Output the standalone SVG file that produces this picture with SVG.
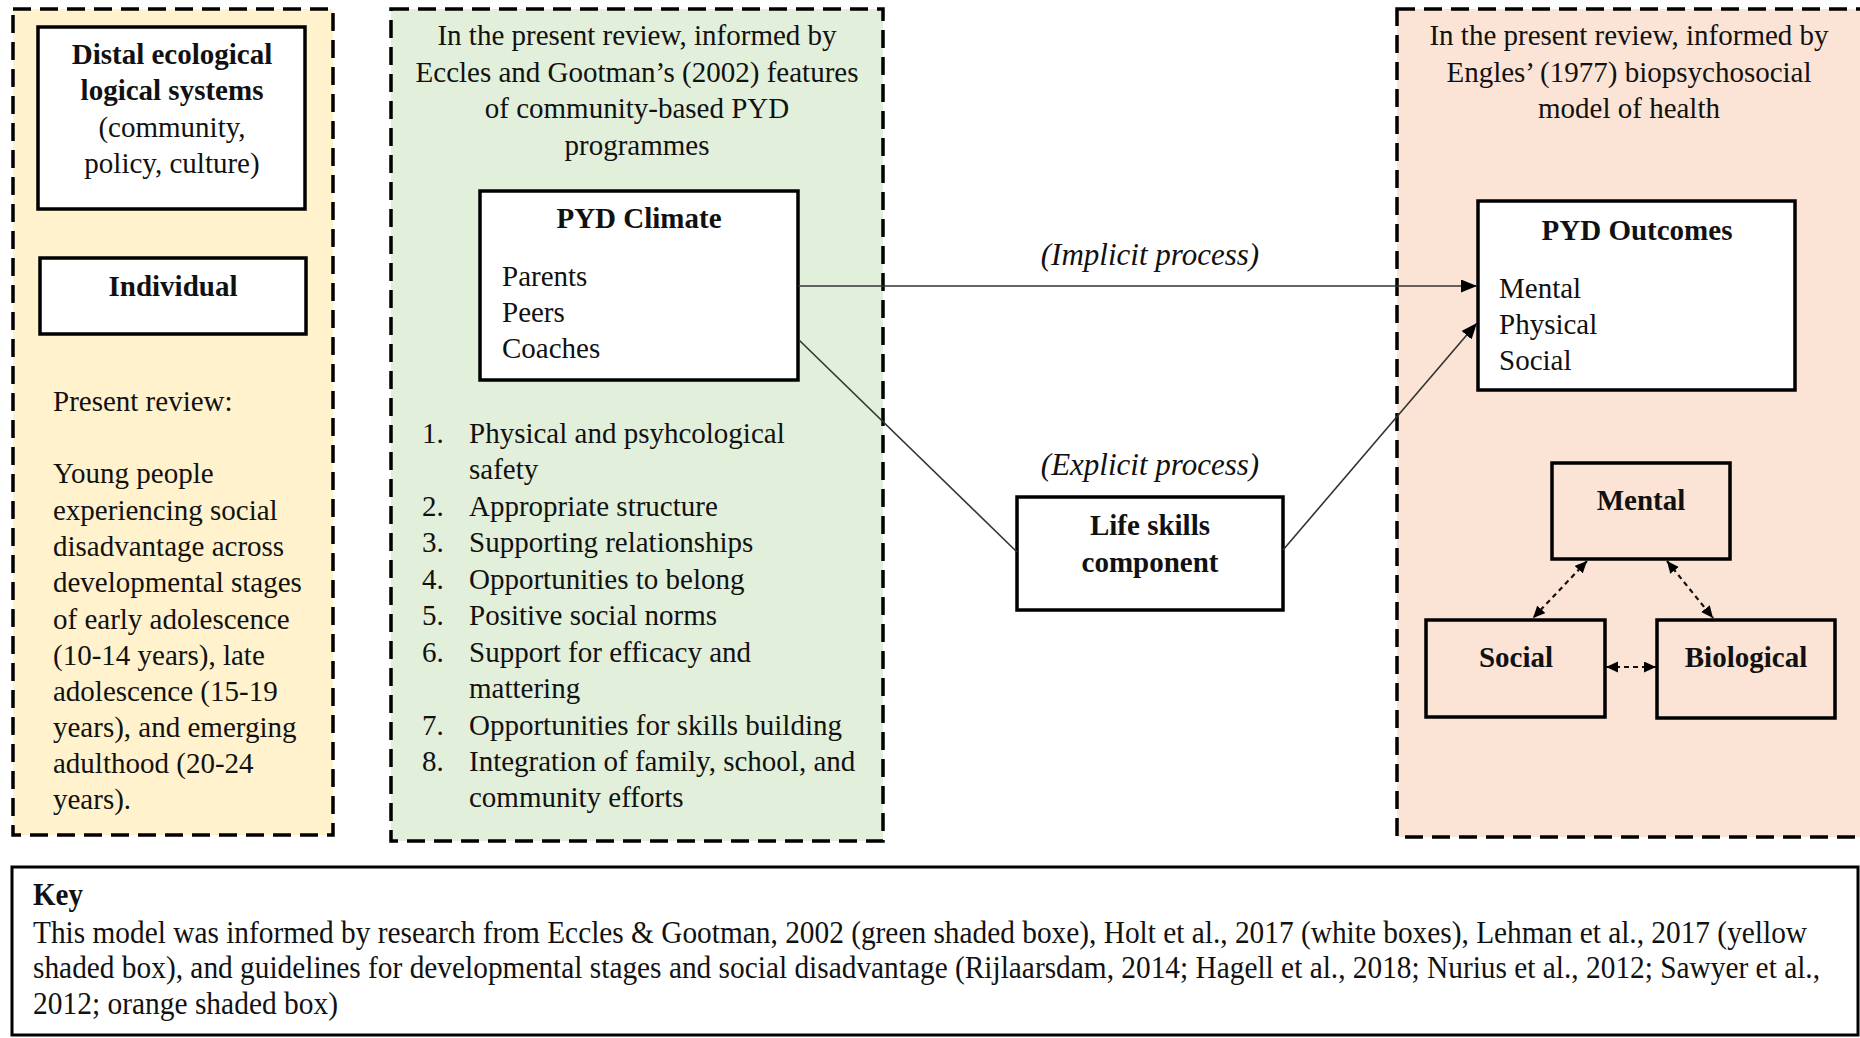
<svg xmlns="http://www.w3.org/2000/svg" width="1860" height="1038" viewBox="0 0 1860 1038">
  <style>
    text { font-family: "Liberation Serif", "Times New Roman", serif; fill: #111; }
    .t { font-size: 29px; }
    .b { font-size: 29px; font-weight: bold; }
    .i { font-size: 31px; font-style: italic; }
    .c { text-anchor: middle; }
    .k { font-size: 32px; }
    .panel { stroke: #000; stroke-width: 3.5; stroke-dasharray: 18 9; }
    .box { fill: #fff; stroke: #000; stroke-width: 3.5; }
    .tbox { fill: none; stroke: #000; stroke-width: 3.5; }
    .link { fill: none; stroke: #333; stroke-width: 1.6; }
    .dlink { fill: none; stroke: #111; stroke-width: 2.2; stroke-dasharray: 5 4; }
  </style>
  <defs>
    <marker id="arrow" markerUnits="userSpaceOnUse" markerWidth="17" markerHeight="14" refX="16" refY="6.5" orient="auto">
      <path d="M0,0 L16,6.5 L0,13 z" fill="#000"/>
    </marker>
    <marker id="tip" markerUnits="userSpaceOnUse" markerWidth="13" markerHeight="12" refX="12" refY="5.5" orient="auto-start-reverse">
      <path d="M0,0 L12,5.5 L0,11 z" fill="#000"/>
    </marker>
  </defs>

  <rect width="1860" height="1038" fill="#fff"/>

  <!-- Context panels -->
  <g id="panel-ecological">
    <rect class="panel" x="13" y="9" width="320" height="826" fill="#FFF2CC"/>
  </g>
  <g id="panel-eccles">
    <rect class="panel" x="391" y="9" width="492" height="832" fill="#E2EFDA"/>
    <text class="t c" x="637" y="45">In the present review, informed by</text>
    <text class="t c" x="637" y="82">Eccles and Gootman’s (2002) features</text>
    <text class="t c" x="637" y="118">of community-based PYD</text>
    <text class="t c" x="637" y="155">programmes</text>
  </g>
  <g id="panel-engles">
    <rect class="panel" x="1397" y="9" width="490" height="828" fill="#FBE4D5"/>
    <text class="t c" x="1629" y="45">In the present review, informed by</text>
    <text class="t c" x="1629" y="82">Engles’ (1977) biopsychosocial</text>
    <text class="t c" x="1629" y="118">model of health</text>
  </g>

  <!-- Left column -->
  <g id="node-distal">
    <rect class="box" x="38" y="27" width="267" height="182"/>
    <text class="b c" x="172" y="64">Distal ecological</text>
    <text class="b c" x="172" y="100">logical systems</text>
    <text class="t c" x="172" y="137">(community,</text>
    <text class="t c" x="172" y="173">policy, culture)</text>
  </g>
  <g id="node-individual">
    <rect class="box" x="40" y="258" width="266" height="76"/>
    <text class="b c" x="173" y="296">Individual</text>
  </g>
  <g id="note-present-review">
    <text class="t" x="53" y="411">Present review:</text>
    <text class="t" x="53" y="483">Young people</text>
    <text class="t" x="53" y="520">experiencing social</text>
    <text class="t" x="53" y="556">disadvantage across</text>
    <text class="t" x="53" y="592">developmental stages</text>
    <text class="t" x="53" y="629">of early adolescence</text>
    <text class="t" x="53" y="665">(10-14 years), late</text>
    <text class="t" x="53" y="701">adolescence (15-19</text>
    <text class="t" x="53" y="737">years), and emerging</text>
    <text class="t" x="53" y="773">adulthood (20-24</text>
    <text class="t" x="53" y="809">years).</text>
  </g>

  <!-- PYD climate and programme features -->
  <g id="node-pyd-climate">
    <rect class="box" x="480" y="191" width="318" height="189"/>
    <text class="b c" x="639" y="228">PYD Climate</text>
    <text class="t" x="502" y="286">Parents</text>
    <text class="t" x="502" y="322">Peers</text>
    <text class="t" x="502" y="358">Coaches</text>
  </g>
  <g id="list-features">
    <text class="t" x="422" y="443">1.</text><text class="t" x="469" y="443">Physical and psyhcological</text>
    <text class="t" x="469" y="479">safety</text>
    <text class="t" x="422" y="516">2.</text><text class="t" x="469" y="516">Appropriate structure</text>
    <text class="t" x="422" y="552">3.</text><text class="t" x="469" y="552">Supporting relationships</text>
    <text class="t" x="422" y="589">4.</text><text class="t" x="469" y="589">Opportunities to belong</text>
    <text class="t" x="422" y="625">5.</text><text class="t" x="469" y="625">Positive social norms</text>
    <text class="t" x="422" y="662">6.</text><text class="t" x="469" y="662">Support for efficacy and</text>
    <text class="t" x="469" y="698">mattering</text>
    <text class="t" x="422" y="735">7.</text><text class="t" x="469" y="735">Opportunities for skills building</text>
    <text class="t" x="422" y="771">8.</text><text class="t" x="469" y="771">Integration of family, school, and</text>
    <text class="t" x="469" y="807">community efforts</text>
  </g>

  <!-- Life skills -->
  <g id="node-life-skills">
    <rect class="box" x="1017" y="497" width="266" height="113"/>
    <text class="b c" x="1150" y="535">Life skills</text>
    <text class="b c" x="1150" y="572">component</text>
  </g>

  <!-- Outcomes -->
  <g id="node-pyd-outcomes">
    <rect class="box" x="1478" y="201" width="317" height="189"/>
    <text class="b c" x="1637" y="240">PYD Outcomes</text>
    <text class="t" x="1499" y="298">Mental</text>
    <text class="t" x="1499" y="334">Physical</text>
    <text class="t" x="1499" y="370">Social</text>
  </g>
  <g id="node-mental">
    <rect class="tbox" x="1552" y="463" width="178" height="96"/>
    <text class="b c" x="1641" y="510">Mental</text>
  </g>
  <g id="node-social">
    <rect class="tbox" x="1426" y="620" width="179" height="97"/>
    <text class="b c" x="1516" y="667">Social</text>
  </g>
  <g id="node-biological">
    <rect class="tbox" x="1657" y="620" width="178" height="98"/>
    <text class="b c" x="1746" y="667">Biological</text>
  </g>

  <!-- Connectors -->
  <g id="connectors">
    <line class="link" x1="798" y1="286" x2="1477" y2="286" marker-end="url(#arrow)"/>
    <text class="i c" x="1150" y="265">(Implicit process)</text>
    <line class="link" x1="799" y1="340" x2="1017" y2="552"/>
    <line class="link" x1="1283" y1="550" x2="1477" y2="323" marker-end="url(#arrow)"/>
    <text class="i c" x="1150" y="475">(Explicit process)</text>
    <line class="dlink" x1="1587" y1="561" x2="1533" y2="618" marker-start="url(#tip)" marker-end="url(#tip)"/>
    <line class="dlink" x1="1667" y1="561" x2="1713" y2="618" marker-start="url(#tip)" marker-end="url(#tip)"/>
    <line class="dlink" x1="1606" y1="667" x2="1656" y2="667" marker-start="url(#tip)" marker-end="url(#tip)"/>
  </g>

  <!-- Key -->
  <g id="key">
    <rect x="12" y="867" width="1846" height="168" fill="#fff" stroke="#000" stroke-width="3"/>
    <text class="k" x="33" y="905" font-weight="bold" textLength="50" lengthAdjust="spacingAndGlyphs">Key</text>
    <text class="k" x="33" y="943" textLength="1774" lengthAdjust="spacingAndGlyphs">This model was informed by research from Eccles &amp; Gootman, 2002 (green shaded boxe), Holt et al., 2017 (white boxes), Lehman et al., 2017 (yellow</text>
    <text class="k" x="33" y="978" textLength="1787" lengthAdjust="spacingAndGlyphs">shaded box), and guidelines for developmental stages and social disadvantage (Rijlaarsdam, 2014; Hagell et al., 2018; Nurius et al., 2012; Sawyer et al.,</text>
    <text class="k" x="33" y="1014" textLength="305" lengthAdjust="spacingAndGlyphs">2012; orange shaded box)</text>
  </g>
</svg>
